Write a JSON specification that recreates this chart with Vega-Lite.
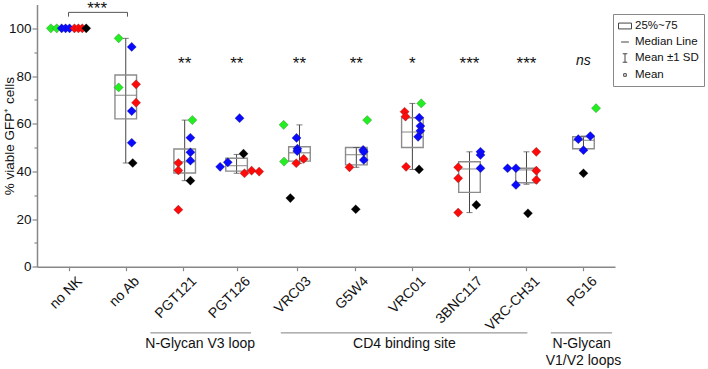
{
  "$schema": "https://vega.github.io/schema/vega-lite/v6.json",
  "width": 578,
  "height": 262.2,
  "autosize": {"type": "none"},
  "padding": {"left": 37, "top": 4.5, "right": 93, "bottom": 102.3},
  "config": {
    "view": {"stroke": null},
    "font": "Liberation Sans",
    "axis": {
      "domainColor": "#888888",
      "domainWidth": 1.5,
      "tickColor": "#888888",
      "tickWidth": 1.2,
      "labelColor": "#111111",
      "titleColor": "#111111",
      "grid": false
    },
    "legend": {
      "strokeColor": "#888888",
      "fillColor": "#ffffff",
      "padding": 5,
      "labelFontSize": 11.5,
      "labelColor": "#111111",
      "labelOffset": 3,
      "rowPadding": 3,
      "symbolOpacity": 1,
      "symbolStrokeWidth": 1,
      "symbolStrokeColor": "#444444",
      "symbolFillColor": "transparent"
    }
  },
  "resolve": {"axis": {"x": "independent", "y": "independent"}},
  "datasets": {
    "cells": [
      {"ab": "no NK", "pos": 0.691, "pct": 100, "donor": "A"},
      {"ab": "no NK", "pos": 0.794, "pct": 100, "donor": "A"},
      {"ab": "no NK", "pos": 0.88, "pct": 100, "donor": "B"},
      {"ab": "no NK", "pos": 0.948, "pct": 100, "donor": "B"},
      {"ab": "no NK", "pos": 1.017, "pct": 100, "donor": "B"},
      {"ab": "no NK", "pos": 1.103, "pct": 100, "donor": "C"},
      {"ab": "no NK", "pos": 1.172, "pct": 100, "donor": "C"},
      {"ab": "no NK", "pos": 1.24, "pct": 100, "donor": "C"},
      {"ab": "no NK", "pos": 1.309, "pct": 100, "donor": "D"},

      {"ab": "no Ab", "pos": 1.876, "pct": 95.8, "donor": "A"},
      {"ab": "no Ab", "pos": 2.104, "pct": 92.2, "donor": "B"},
      {"ab": "no Ab", "pos": 1.876, "pct": 75.2, "donor": "A"},
      {"ab": "no Ab", "pos": 2.18, "pct": 76.5, "donor": "C"},
      {"ab": "no Ab", "pos": 2.18, "pct": 68.8, "donor": "C"},
      {"ab": "no Ab", "pos": 2.104, "pct": 65.3, "donor": "B"},
      {"ab": "no Ab", "pos": 2.104, "pct": 52.0, "donor": "B"},
      {"ab": "no Ab", "pos": 2.122, "pct": 43.5, "donor": "D"},

      {"ab": "PGT121", "pos": 3.164, "pct": 61.5, "donor": "A"},
      {"ab": "PGT121", "pos": 3.13, "pct": 54.1, "donor": "B"},
      {"ab": "PGT121", "pos": 3.13, "pct": 48.0, "donor": "B"},
      {"ab": "PGT121", "pos": 3.13, "pct": 44.5, "donor": "B"},
      {"ab": "PGT121", "pos": 2.919, "pct": 43.5, "donor": "C"},
      {"ab": "PGT121", "pos": 2.919, "pct": 40.4, "donor": "C"},
      {"ab": "PGT121", "pos": 3.13, "pct": 36.1, "donor": "D"},
      {"ab": "PGT121", "pos": 2.919, "pct": 23.9, "donor": "C"},

      {"ab": "PGT126", "pos": 3.65, "pct": 41.9, "donor": "B"},
      {"ab": "PGT126", "pos": 3.783, "pct": 43.8, "donor": "B"},
      {"ab": "PGT126", "pos": 3.989, "pct": 62.3, "donor": "B"},
      {"ab": "PGT126", "pos": 4.058, "pct": 47.4, "donor": "D"},
      {"ab": "PGT126", "pos": 4.075, "pct": 39.2, "donor": "C"},
      {"ab": "PGT126", "pos": 4.2, "pct": 40.3, "donor": "C"},
      {"ab": "PGT126", "pos": 4.332, "pct": 39.9, "donor": "C"},

      {"ab": "VRC03", "pos": 4.76, "pct": 59.5, "donor": "A"},
      {"ab": "VRC03", "pos": 4.985, "pct": 54.0, "donor": "B"},
      {"ab": "VRC03", "pos": 5.0, "pct": 49.5, "donor": "B"},
      {"ab": "VRC03", "pos": 4.997, "pct": 48.5, "donor": "B"},
      {"ab": "VRC03", "pos": 4.767, "pct": 44.1, "donor": "A"},
      {"ab": "VRC03", "pos": 4.98, "pct": 43.4, "donor": "C"},
      {"ab": "VRC03", "pos": 5.11, "pct": 45.2, "donor": "C"},
      {"ab": "VRC03", "pos": 4.877, "pct": 28.8, "donor": "D"},

      {"ab": "G5W4", "pos": 6.22, "pct": 61.5, "donor": "A"},
      {"ab": "G5W4", "pos": 6.15, "pct": 49.0, "donor": "B"},
      {"ab": "G5W4", "pos": 6.16, "pct": 48.2, "donor": "B"},
      {"ab": "G5W4", "pos": 6.16, "pct": 44.8, "donor": "B"},
      {"ab": "G5W4", "pos": 5.91, "pct": 41.7, "donor": "C"},
      {"ab": "G5W4", "pos": 6.02, "pct": 24.1, "donor": "D"},

      {"ab": "VRC01", "pos": 7.165, "pct": 68.5, "donor": "A"},
      {"ab": "VRC01", "pos": 6.874, "pct": 65.0, "donor": "C"},
      {"ab": "VRC01", "pos": 6.89, "pct": 63.0, "donor": "C"},
      {"ab": "VRC01", "pos": 7.13, "pct": 62.5, "donor": "B"},
      {"ab": "VRC01", "pos": 7.15, "pct": 59.0, "donor": "B"},
      {"ab": "VRC01", "pos": 7.15, "pct": 57.0, "donor": "B"},
      {"ab": "VRC01", "pos": 7.11, "pct": 54.5, "donor": "B"},
      {"ab": "VRC01", "pos": 6.9, "pct": 41.9, "donor": "C"},
      {"ab": "VRC01", "pos": 7.127, "pct": 40.8, "donor": "D"},

      {"ab": "3BNC117", "pos": 7.81, "pct": 41.7, "donor": "C"},
      {"ab": "3BNC117", "pos": 7.81, "pct": 37.1, "donor": "C"},
      {"ab": "3BNC117", "pos": 8.2, "pct": 41.3, "donor": "B"},
      {"ab": "3BNC117", "pos": 8.2, "pct": 46.9, "donor": "B"},
      {"ab": "3BNC117", "pos": 8.2, "pct": 48.2, "donor": "B"},
      {"ab": "3BNC117", "pos": 8.128, "pct": 25.9, "donor": "D"},
      {"ab": "3BNC117", "pos": 7.81, "pct": 22.7, "donor": "C"},

      {"ab": "VRC-CH31", "pos": 8.673, "pct": 41.3, "donor": "B"},
      {"ab": "VRC-CH31", "pos": 8.82, "pct": 41.3, "donor": "B"},
      {"ab": "VRC-CH31", "pos": 9.176, "pct": 40.3, "donor": "C"},
      {"ab": "VRC-CH31", "pos": 9.176, "pct": 36.4, "donor": "C"},
      {"ab": "VRC-CH31", "pos": 8.82, "pct": 34.3, "donor": "B"},
      {"ab": "VRC-CH31", "pos": 9.03, "pct": 22.4, "donor": "D"},
      {"ab": "VRC-CH31", "pos": 9.176, "pct": 48.2, "donor": "C"},

      {"ab": "PG16", "pos": 10.22, "pct": 66.5, "donor": "A"},
      {"ab": "PG16", "pos": 10.12, "pct": 54.8, "donor": "B"},
      {"ab": "PG16", "pos": 9.91, "pct": 53.5, "donor": "B"},
      {"ab": "PG16", "pos": 10.0, "pct": 48.9, "donor": "B"},
      {"ab": "PG16", "pos": 10.0, "pct": 39.2, "donor": "D"}
    ],
    "boxes": [
      {"ab": "no Ab", "pos": 2.0, "q1": 62.0, "med": 71.9, "q3": 80.4, "lo": 43.5, "hi": 95.8},
      {"ab": "PGT121", "pos": 3.03, "q1": 39.3, "med": 44.0, "q3": 49.4, "lo": 36.1, "hi": 61.5},
      {"ab": "PGT126", "pos": 3.937, "q1": 40.1, "med": 42.4, "q3": 45.5, "lo": 39.2, "hi": 47.1},
      {"ab": "VRC03", "pos": 5.036, "q1": 44.3, "med": 47.8, "q3": 50.3, "lo": 43.4, "hi": 59.5},
      {"ab": "G5W4", "pos": 6.03, "q1": 42.7, "med": 47.0, "q3": 50.0, "lo": 41.7, "hi": 50.0},
      {"ab": "VRC01", "pos": 7.01, "q1": 50.0, "med": 56.5, "q3": 62.5, "lo": 40.8, "hi": 68.5},
      {"ab": "3BNC117", "pos": 8.008, "q1": 31.2, "med": 41.0, "q3": 44.0, "lo": 22.7, "hi": 48.2},
      {"ab": "VRC-CH31", "pos": 9.004, "q1": 35.2, "med": 40.6, "q3": 41.3, "lo": 34.6, "hi": 48.2},
      {"ab": "PG16", "pos": 10.0, "q1": 49.5, "med": 53.0, "q3": 54.5, "lo": 48.9, "hi": 54.8}
    ],
    "bracket": [
      {"x": 1.0, "x2": 2.03, "y": 106.7, "y2": 106.7},
      {"x": 1.0, "x2": 1.0, "y": 104.9, "y2": 106.7},
      {"x": 2.03, "x2": 2.03, "y": 104.9, "y2": 106.7}
    ],
    "stars": [
      {"pos": 1.5, "y": 106.0, "label": "***"},
      {"pos": 3.03, "y": 83.0, "label": "**"},
      {"pos": 3.94, "y": 83.0, "label": "**"},
      {"pos": 5.036, "y": 83.0, "label": "**"},
      {"pos": 6.03, "y": 83.0, "label": "**"},
      {"pos": 7.01, "y": 83.0, "label": "*"},
      {"pos": 8.008, "y": 83.0, "label": "***"},
      {"pos": 9.004, "y": 83.0, "label": "***"}
    ],
    "ns": [
      {"pos": 10.0, "y": 84.6, "label": "ns"}
    ],
    "groupLines": [
      {"x": 2.43, "x2": 4.19, "y": -27.8},
      {"x": 4.71, "x2": 9.02, "y": -27.8},
      {"x": 9.43, "x2": 10.5, "y": -27.8}
    ],
    "groupText": [
      {"pos": 3.3, "y": -32.4, "label": "N-Glycan V3 loop"},
      {"pos": 6.87, "y": -32.4, "label": "CD4 binding site"},
      {"pos": 9.97, "y": -32.4, "label": "N-Glycan"},
      {"pos": 10.0, "y": -39.6, "label": "V1/V2 loops"}
    ],
    "key": [
      {"item": "25%~75"},
      {"item": "Median Line"},
      {"item": "Mean ±1 SD"},
      {"item": "Mean"}
    ]
  },
  "layer": [
    {
      "data": {"name": "boxes"},
      "mark": {"type": "rule", "color": "#444444", "strokeWidth": 1},
      "encoding": {
        "x": {"field": "pos", "type": "quantitative", "scale": {"domain": [0.536, 10.464], "nice": false, "zero": false},
          "axis": {
            "values": [1, 2, 3, 3.937, 5, 6, 7, 8, 9, 10],
            "labelExpr": "['no NK','no Ab','PGT121','PGT126','VRC03','G5W4','VRC01','3BNC117','VRC-CH31','PG16'][round(datum.value) - 1]",
            "labelAngle": -45,
            "labelAlign": "right",
            "labelBaseline": "middle",
            "labelOffset": 11,
            "labelPadding": 8,
            "labelOverlap": false,
            "labelBound": false,
            "labelFontSize": 14,
            "tickSize": 4,
            "title": null
          }},
        "y": {"field": "lo", "type": "quantitative", "scale": {"domain": [0, 110], "nice": false},
          "axis": {
            "values": [0, 10, 20, 30, 40, 50, 60, 70, 80, 90, 100],
            "labelExpr": "datum.value % 20 == 0 ? datum.label : ''",
            "tickSize": {"condition": {"test": "datum.value % 20 == 0", "value": 5}, "value": 3},
            "labelFontSize": 13.5,
            "labelPadding": 1,
            "title": "% viable GFP⁺ cells",
            "titleFontSize": 13.5,
            "titleFontWeight": "normal",
            "titlePadding": -8
          }},
        "y2": {"field": "hi"}
      }
    },
    {
      "data": {"name": "boxes"},
      "mark": {"type": "bar", "width": 21.6, "fill": "#ffffff", "fillOpacity": 0, "stroke": "#8c8c8c", "strokeWidth": 1.4},
      "encoding": {
        "x": {"field": "pos", "type": "quantitative", "scale": {"domain": [0.536, 10.464], "nice": false, "zero": false}, "axis": null},
        "y": {"field": "q1", "type": "quantitative", "scale": {"domain": [0, 110], "nice": false}, "axis": null},
        "y2": {"field": "q3"}
      }
    },
    {
      "data": {"name": "boxes"},
      "mark": {"type": "tick", "orient": "horizontal", "size": 21.6, "thickness": 1.3, "color": "#7a7a7a"},
      "encoding": {
        "x": {"field": "pos", "type": "quantitative", "scale": {"domain": [0.536, 10.464], "nice": false, "zero": false}, "axis": null},
        "y": {"field": "med", "type": "quantitative", "scale": {"domain": [0, 110], "nice": false}, "axis": null}
      }
    },
    {
      "data": {"name": "boxes"},
      "mark": {"type": "tick", "orient": "horizontal", "size": 6, "thickness": 1, "color": "#444444"},
      "encoding": {
        "x": {"field": "pos", "type": "quantitative", "scale": {"domain": [0.536, 10.464], "nice": false, "zero": false}, "axis": null},
        "y": {"field": "lo", "type": "quantitative", "scale": {"domain": [0, 110], "nice": false}, "axis": null}
      }
    },
    {
      "data": {"name": "boxes"},
      "mark": {"type": "tick", "orient": "horizontal", "size": 6, "thickness": 1, "color": "#444444"},
      "encoding": {
        "x": {"field": "pos", "type": "quantitative", "scale": {"domain": [0.536, 10.464], "nice": false, "zero": false}, "axis": null},
        "y": {"field": "hi", "type": "quantitative", "scale": {"domain": [0, 110], "nice": false}, "axis": null}
      }
    },
    {
      "data": {"name": "cells"},
      "mark": {"type": "point", "shape": "diamond", "filled": true, "size": 85, "opacity": 1, "stroke": "#222222", "strokeWidth": 0.4, "strokeOpacity": 0.6},
      "encoding": {
        "x": {"field": "pos", "type": "quantitative", "scale": {"domain": [0.536, 10.464], "nice": false, "zero": false}, "axis": null},
        "y": {"field": "pct", "type": "quantitative", "scale": {"domain": [0, 110], "nice": false}, "axis": null},
        "fill": {"field": "donor", "type": "nominal",
          "scale": {"domain": ["A", "B", "C", "D"], "range": ["#22ee22", "#0a0aff", "#ff0a0a", "#000000"]},
          "legend": null}
      }
    },
    {
      "data": {"name": "bracket"},
      "mark": {"type": "rule", "color": "#555555", "strokeWidth": 1},
      "encoding": {
        "x": {"field": "x", "type": "quantitative", "scale": {"domain": [0.536, 10.464], "nice": false, "zero": false}, "axis": null},
        "x2": {"field": "x2"},
        "y": {"field": "y", "type": "quantitative", "scale": {"domain": [0, 110], "nice": false}, "axis": null},
        "y2": {"field": "y2"}
      }
    },
    {
      "data": {"name": "stars"},
      "mark": {"type": "text", "fontSize": 17, "color": "#111111", "baseline": "alphabetic", "align": "center"},
      "encoding": {
        "x": {"field": "pos", "type": "quantitative", "scale": {"domain": [0.536, 10.464], "nice": false, "zero": false}, "axis": null},
        "y": {"field": "y", "type": "quantitative", "scale": {"domain": [0, 110], "nice": false}, "axis": null},
        "text": {"field": "label"}
      }
    },
    {
      "data": {"name": "ns"},
      "mark": {"type": "text", "fontSize": 14, "fontStyle": "italic", "color": "#111111", "baseline": "alphabetic", "align": "center"},
      "encoding": {
        "x": {"field": "pos", "type": "quantitative", "scale": {"domain": [0.536, 10.464], "nice": false, "zero": false}, "axis": null},
        "y": {"field": "y", "type": "quantitative", "scale": {"domain": [0, 110], "nice": false}, "axis": null},
        "text": {"field": "label"}
      }
    },
    {
      "data": {"name": "groupLines"},
      "mark": {"type": "rule", "color": "#999999", "strokeWidth": 1.2},
      "encoding": {
        "x": {"field": "x", "type": "quantitative", "scale": {"domain": [0.536, 10.464], "nice": false, "zero": false}, "axis": null},
        "x2": {"field": "x2"},
        "y": {"field": "y", "type": "quantitative", "scale": {"domain": [0, 110], "nice": false}, "axis": null}
      }
    },
    {
      "data": {"name": "groupText"},
      "mark": {"type": "text", "fontSize": 14, "color": "#111111", "baseline": "middle", "align": "center"},
      "encoding": {
        "x": {"field": "pos", "type": "quantitative", "scale": {"domain": [0.536, 10.464], "nice": false, "zero": false}, "axis": null},
        "y": {"field": "y", "type": "quantitative", "scale": {"domain": [0, 110], "nice": false}, "axis": null},
        "text": {"field": "label"}
      }
    },
    {
      "data": {"name": "key"},
      "mark": {"type": "point", "filled": false, "opacity": 0, "color": "#444444"},
      "encoding": {
        "shape": {"field": "item", "type": "nominal",
          "scale": {
            "domain": ["25%~75", "Median Line", "Mean ±1 SD", "Mean"],
            "range": [
              "M-1,-0.45H1V0.45H-1Z",
              "M-0.6,0H0.6",
              "M-0.35,-0.65H0.35M0,-0.65V0.65M-0.35,0.65H0.35",
              "M-0.2,-0.2H0.2V0.2H-0.2Z"
            ]
          },
          "legend": {
            "title": null,
            "orient": "none",
            "legendX": 576,
            "legendY": 9.5,
            "symbolSize": 169,
            "symbolOpacity": 1
          }}
      }
    }
  ]
}
